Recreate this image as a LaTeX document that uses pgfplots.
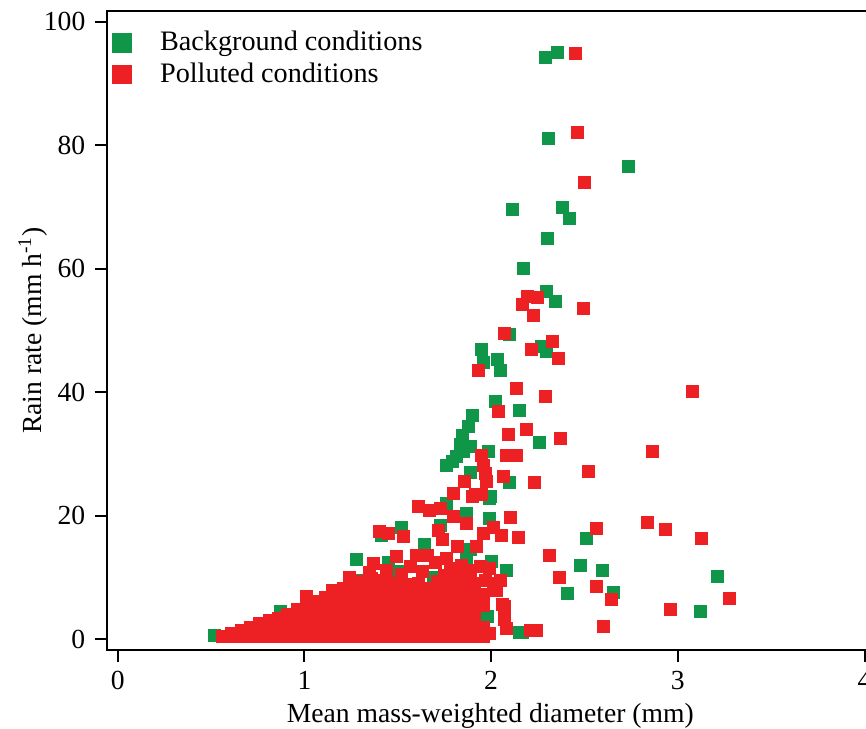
\documentclass[border=0pt]{standalone}
\usepackage{fontspec}
\setmainfont{Liberation Serif}
\usepackage{pgfplots}
\pgfplotsset{compat=1.18}
\definecolor{bggreen}{RGB}{16,150,72}
\definecolor{polred}{RGB}{237,32,36}
\begin{document}
\fontsize{13.5}{16}\selectfont
\begin{tikzpicture}
\begin{axis}[
  scale only axis, width=383.6pt, height=319.4pt,
  xmin=-0.059, xmax=4.05, ymin=-1.73, ymax=101.7,
  xtick={0,1,2,3,4}, ytick={0,20,...,100},
  tick pos=left, tick align=outside, major tick length=6pt,
  axis line style={line width=1pt},
  every tick/.style={line width=1pt, black},
  /pgf/number format/assume math mode=true,
  tick label style={font=\fontsize{13.8}{16}\selectfont},
  label style={font=\fontsize{13.8}{16}\selectfont},
  xlabel={Mean mass-weighted diameter (mm)},
  ylabel={Rain rate (mm h\textsuperscript{-1})},
  xlabel style={yshift=2.5pt},
  ylabel style={yshift=-11pt},
  legend style={draw=none, fill=none, inner sep=0pt, outer sep=0pt,
    at={(axis description cs:0,1)}, anchor=north west,
    xshift=3pt, yshift=-8pt, column sep=12.5pt, row sep=0pt,
    font=\fontsize{14.1}{16}\selectfont},
  legend cell align=left,
  legend image code/.code={\draw[#1, mark size=4.6pt] plot coordinates {(0pt,0pt)};},
]
% background conditions
\addplot[only marks, mark=square*, mark size=3pt, color=bggreen] coordinates {
(2.290,94.2) (2.357,95.0) (2.305,81.1) (2.735,76.5) (2.116,69.6) (2.381,69.9)
(2.421,68.1) (2.301,64.9) (2.172,60.1) (2.298,56.3) (2.344,54.7) (2.096,49.3)
(2.271,47.4) (2.298,46.6) (1.950,47.0) (1.958,44.9) (2.033,45.3) (2.051,43.5)
(2.021,38.5) (2.151,37.1) (1.901,36.3) (1.878,34.4) (1.845,33.0) (1.833,31.5)
(1.850,30.5) (1.812,29.6) (1.790,28.8) (1.762,28.2) (1.887,31.2) (1.985,30.5)
(2.257,31.9) (2.096,25.4) (1.887,27.0) (1.994,23.1) (2.512,16.3) (2.084,11.2)
(2.480,11.9) (2.598,11.2) (2.408,7.5) (2.655,7.6) (3.210,10.2) (3.119,4.6)
(2.167,1.1)
(0.52,0.7) (0.87,4.5) (1.28,13.0) (1.31,9.6) (1.52,18.2) (1.41,16.9)
(1.64,15.3) (1.71,9.9) (1.73,18.5) (1.87,20.4) (1.99,22.8) (1.99,19.6)
(1.87,13.1) (1.89,14.5) (1.98,3.7) (1.94,4.5) (1.63,7.4) (1.28,7.7)
(1.08,5.0) (1.76,22.0) (1.69,10.1) (2.00,12.6) (2.15,1.2)
(0.95,2.0) (1.05,3.0) (1.15,2.5) (1.25,4.0) (1.35,3.0) (1.45,5.0)
(1.55,6.0) (1.60,4.0) (1.70,5.5) (1.80,6.5) (1.90,7.0) (1.95,2.0)
(1.50,11.0) (1.45,12.5)
};
\addlegendentry{Background conditions}
% polluted conditions
\addplot[only marks, mark=square*, mark size=3pt, color=polred] coordinates {
(2.449,94.8) (2.462,82.1) (2.498,73.9) (2.194,55.6) (2.247,55.4) (2.169,54.3)
(2.228,52.5) (2.496,53.6) (2.069,49.5) (2.217,47.0) (2.328,48.3) (2.360,45.5)
(1.931,43.6) (2.133,40.7) (2.289,39.4) (2.039,36.9) (2.092,33.2) (2.191,34.0)
(2.369,32.5) (3.078,40.2) (2.866,30.5) (2.521,27.2) (1.950,29.8) (1.958,28.2)
(1.967,26.9) (1.976,25.5) (2.084,29.8) (2.137,29.8) (2.065,26.3) (1.856,25.5)
(2.230,25.4) (1.798,23.6) (1.914,23.4) (2.101,19.7) (2.057,16.9) (2.146,16.5)
(2.564,18.0) (2.839,19.0) (2.933,17.8) (3.126,16.4) (2.310,13.6) (2.367,10.1)
(2.564,8.5) (2.646,6.4) (3.276,6.7) (2.958,4.9) (2.603,2.1) (2.069,5.4)
(2.069,3.2) (2.084,1.8) (2.208,1.5) (2.244,1.5)
(1.24,10.1) (1.37,12.3) (1.45,17.2) (1.53,16.6) (1.49,13.4) (1.60,13.6)
(1.66,13.6) (1.61,21.5) (1.67,20.9) (1.73,21.2) (1.80,19.9) (1.72,17.7)
(1.74,16.1) (1.82,15.0) (1.76,13.1) (1.90,23.1) (1.95,23.4) (1.87,18.8)
(1.96,17.2) (2.01,18.2) (1.92,15.0) (1.94,11.8) (1.99,11.5) (1.75,10.4)
(1.89,11.2) (2.06,5.6) (1.94,1.0) (1.99,1.0) (1.90,2.6) (2.03,8.0)
(2.01,9.1) (2.05,9.6) (1.97,9.6) (1.15,8.0) (1.01,6.9) (1.40,17.4)
(1.57,11.8) (1.63,11.0) (1.44,11.2) (1.52,10.5) (1.84,12.0) (1.70,12.5)
(1.78,11.5) (1.35,10.8)
% dense core
(0.56,0.5)
(0.61,0.5) (0.61,1.0)
(0.66,0.5) (0.66,1.5)
(0.71,0.5) (0.71,2.0)
(0.76,0.5) (0.76,2.0) (0.76,2.6)
(0.81,0.5) (0.81,2.0) (0.81,3.0)
(0.86,0.5) (0.86,2.0) (0.86,3.4)
(0.91,0.5) (0.91,2.0) (0.91,3.5) (0.91,4.0)
(0.96,0.5) (0.96,2.0) (0.96,3.5) (0.96,4.8)
(1.01,0.5) (1.01,2.0) (1.01,3.5) (1.01,5.0) (1.01,5.8)
(1.06,0.5) (1.06,2.0) (1.06,3.5) (1.06,5.0) (1.06,6.2)
(1.11,0.5) (1.11,2.0) (1.11,3.5) (1.11,5.0) (1.11,6.5) (1.11,6.8)
(1.16,0.5) (1.16,2.0) (1.16,3.5) (1.16,5.0) (1.16,6.5) (1.16,7.4)
(1.21,0.5) (1.21,2.0) (1.21,3.5) (1.21,5.0) (1.21,6.5) (1.21,8.2)
(1.26,0.5) (1.26,2.0) (1.26,3.5) (1.26,5.0) (1.26,6.5) (1.26,8.0) (1.26,8.8)
(1.31,0.5) (1.31,2.0) (1.31,3.5) (1.31,5.0) (1.31,6.5) (1.31,8.0) (1.31,9.4)
(1.36,0.5) (1.36,2.0) (1.36,3.5) (1.36,5.0) (1.36,6.5) (1.36,8.0) (1.36,9.8)
(1.41,0.5) (1.41,2.0) (1.41,3.5) (1.41,5.0) (1.41,6.5) (1.41,8.0) (1.41,9.5)
(1.46,0.5) (1.46,2.0) (1.46,3.5) (1.46,5.0) (1.46,6.5) (1.46,8.0) (1.46,9.0)
(1.51,0.5) (1.51,2.0) (1.51,3.5) (1.51,5.0) (1.51,6.5) (1.51,8.0) (1.51,8.6)
(1.56,0.5) (1.56,2.0) (1.56,3.5) (1.56,5.0) (1.56,6.5) (1.56,8.0) (1.56,8.9)
(1.61,0.5) (1.61,2.0) (1.61,3.5) (1.61,5.0) (1.61,6.5) (1.61,8.0) (1.61,9.1)
(1.66,0.5) (1.66,2.0) (1.66,3.5) (1.66,5.0) (1.66,6.5) (1.66,8.2)
(1.71,0.5) (1.71,2.0) (1.71,3.5) (1.71,5.0) (1.71,6.5) (1.71,8.0) (1.71,9.3)
(1.76,0.5) (1.76,2.0) (1.76,3.5) (1.76,5.0) (1.76,6.5) (1.76,8.0) (1.76,9.8)
(1.81,0.5) (1.81,2.0) (1.81,3.5) (1.81,5.0) (1.81,6.5) (1.81,8.0) (1.81,10.0)
(1.86,0.5) (1.86,2.0) (1.86,3.5) (1.86,5.0) (1.86,6.5) (1.86,8.0) (1.86,10.0)
(1.91,0.5) (1.91,2.0) (1.91,3.5) (1.91,5.0) (1.91,6.5) (1.91,8.0) (1.91,9.0)
(1.96,0.5) (1.96,2.0) (1.96,5.5) (1.96,6.8) (1.96,7.2)
};
\addlegendentry{Polluted conditions}
\end{axis}
\pgfresetboundingbox
\path[use as bounding box] ([shift={(-53.35pt,-39pt)}]current axis.south west)
  rectangle ([shift={(379.65pt,325pt)}]current axis.south west);
\end{tikzpicture}
\end{document}
